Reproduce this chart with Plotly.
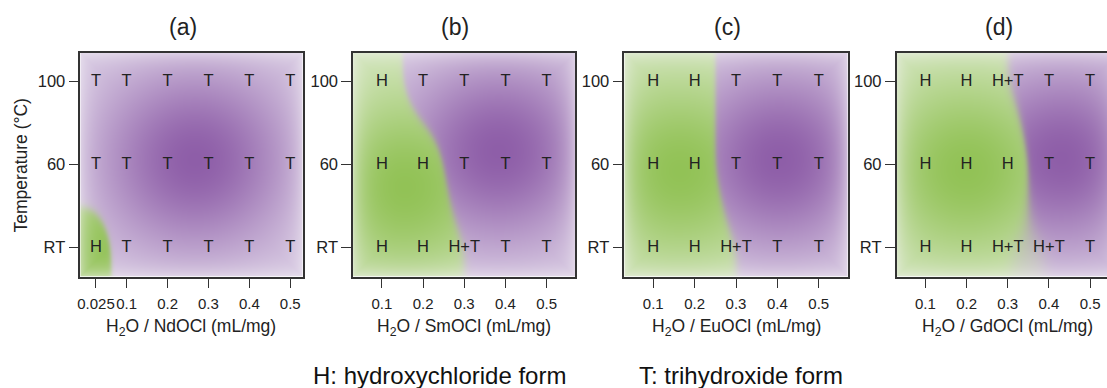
import numpy as np
import plotly.graph_objects as go
import zlib, struct, base64

# ---------------- data ----------------
panel_titles = ["(a)", "(b)", "(c)", "(d)"]
compounds = ["NdOCl", "SmOCl", "EuOCl", "GdOCl"]
temp_labels = ["RT", "60", "100"]          # rows, bottom -> top
ratios_a = [0.025, 0.1, 0.2, 0.3, 0.4, 0.5]
ratios_bcd = [0.1, 0.2, 0.3, 0.4, 0.5]

phase_a = [["H", "T", "T", "T", "T", "T"],      # RT
           ["T", "T", "T", "T", "T", "T"],      # 60
           ["T", "T", "T", "T", "T", "T"]]      # 100
phase_b = [["H", "H", "H+T", "T", "T"],
           ["H", "H", "T", "T", "T"],
           ["H", "T", "T", "T", "T"]]
phase_c = [["H", "H", "H+T", "T", "T"],
           ["H", "H", "T", "T", "T"],
           ["H", "H", "T", "T", "T"]]
phase_d = [["H", "H", "H+T", "H+T", "T"],
           ["H", "H", "H", "T", "T"],
           ["H", "H", "H+T", "T", "T"]]

ratios = [ratios_a, ratios_bcd, ratios_bcd, ratios_bcd]
phases = [phase_a, phase_b, phase_c, phase_d]
x_ranges = [(-0.0134, 0.5305), (0.03, 0.57), (0.03, 0.57), (0.03, 0.57)]
legend_texts = ["H: hydroxychloride form", "T: trihydroxide form"]

# ---------------- layout geometry (px) ----------------
FW, FH = 1107, 388
box_left = [77.5, 351.0, 623.0, 896.0]
box_right = [300.5, 574.0, 847.0, 1119.0]   # last one runs past the page edge
box_top, box_bot = 52.5, 276.5
y_range = (-0.35, 2.35)
FONT = "Liberation Sans, Arial, sans-serif"
INK = "#222222"

# colours
G_DARK = np.array([146, 194, 86.0])
G_LIGHT = np.array([214, 231, 194.0])
P_DARK = np.array([142, 94, 168.0])
P_LIGHT = np.array([219, 207, 229.0])
EDGE = np.array([247, 245, 248.0])
VAL = {"H": -1.0, "T": 1.0, "H+T": 0.0}


def png_uri(arr):
    h, w, _ = arr.shape
    raw = b"".join(b"\x00" + arr[i].tobytes() for i in range(h))

    def chunk(t, d):
        return struct.pack(">I", len(d)) + t + d + struct.pack(">I", zlib.crc32(t + d) & 0xFFFFFFFF)

    png = (b"\x89PNG\r\n\x1a\n" + chunk(b"IHDR", struct.pack(">IIBBBBB", w, h, 8, 2, 0, 0, 0))
           + chunk(b"IDAT", zlib.compress(raw, 9)) + chunk(b"IEND", b""))
    return "data:image/png;base64," + base64.b64encode(png).decode()


def blur(A, s):
    rad = int(3 * s)
    k = np.exp(-np.arange(-rad, rad + 1) ** 2 / (2.0 * s * s))
    k /= k.sum()
    Ap = np.pad(A, ((0, 0), (rad, rad)), mode="edge")
    A = np.apply_along_axis(lambda r: np.convolve(r, k, mode="valid"), 1, Ap)
    Ap = np.pad(A, ((rad, rad), (0, 0)), mode="edge")
    A = np.apply_along_axis(lambda r: np.convolve(r, k, mode="valid"), 0, Ap)
    return A


def background(i):
    left, right = box_left[i], box_right[i]
    right_vis = min(right, FW)
    r0, r1 = x_ranges[i]
    w = int(round(right_vis - left))
    h = int(round(box_bot - box_top))
    gx = left + (np.arange(w) + 0.5) * (right_vis - left) / w
    gy = box_top + (np.arange(h) + 0.5) * (box_bot - box_top) / h
    X, Y = np.meshgrid(gx, gy)

    def xpx(v):
        return left + (v - r0) / (r1 - r0) * (right - left)

    def ypx(v):
        return box_top + (y_range[1] - v) / (y_range[1] - y_range[0]) * (box_bot - box_top)

    xp = np.array([xpx(v) for v in ratios[i]])
    yp = np.array([ypx(r) for r in range(len(phases[i]))])
    # bilinear interpolation of the phase values on the sample grid
    rowv = np.stack([np.interp(gx, xp, [VAL[l] for l in row]) for row in phases[i]])
    order = np.argsort(yp)
    P = np.empty((h, w))
    for c in range(w):
        P[:, c] = np.interp(gy, yp[order], rowv[order, c])
    P = blur(P, 13.0)
    b = 1.0 / (1.0 + np.exp(-16.0 * P))   # purple fraction

    pts = []
    for r, row in enumerate(phases[i]):
        for c, lab in enumerate(row):
            pts.append((xp[c], yp[r], lab))

    def glow(target):
        ws = [(px, py, 1.0 if lab == target else (0.5 if lab == "H+T" else 0.0)) for px, py, lab in pts]
        tw = sum(t[2] for t in ws)
        cx = sum(t[0] * t[2] for t in ws) / tw
        cy = sum(t[1] * t[2] for t in ws) / tw
        return np.exp(-(((X - cx) / 72.0) ** 2 + ((Y - cy) / 68.0) ** 2) / 2)

    Ig = glow("H")[..., None]
    Ip = glow("T")[..., None]
    green = G_LIGHT + (G_DARK - G_LIGHT) * Ig
    purple = P_LIGHT + (P_DARK - P_LIGHT) * Ip
    bb = b[..., None]
    col = green * (1 - bb) + purple * bb
    d = np.minimum.reduce([X - left, right - X, Y - box_top, box_bot - Y])
    f = (0.5 * np.exp(-d / 9.0))[..., None]
    col = col * (1 - f) + EDGE * f
    arr = np.clip(np.round(col), 0, 255).astype(np.uint8)
    return png_uri(arr), (r0, r0 + (right_vis - left) / (right - left) * (r1 - r0))


fig = go.Figure()
ydom = [1 - box_bot / FH, 1 - box_top / FH]
images = []
annotations = []

for i in range(4):
    n = "" if i == 0 else str(i + 1)
    xa, ya = "x" + n, "y" + n
    uri, vis_range = background(i)
    images.append(dict(source=uri, xref=xa, yref=ya, x=vis_range[0], y=y_range[1],
                       sizex=vis_range[1] - vis_range[0], sizey=y_range[1] - y_range[0],
                       xanchor="left", yanchor="top", sizing="stretch", layer="below"))
    xs, ys, ts = [], [], []
    for r, row in enumerate(phases[i]):
        for c, lab in enumerate(row):
            xs.append(ratios[i][c]); ys.append(r); ts.append(lab)
    fig.add_trace(go.Scatter(x=xs, y=ys, text=ts, mode="text", xaxis=xa, yaxis=ya,
                             textfont=dict(family=FONT, size=16.5, color=INK),
                             hoverinfo="skip", showlegend=False))

    right_vis = min(box_right[i], FW)
    fig.layout["xaxis" + n] = dict(
        domain=[box_left[i] / FW, right_vis / FW], range=list(vis_range), anchor=ya,
        tickvals=ratios[i], ticktext=[("%g" % v) for v in ratios[i]], tickangle=0,
        ticks="outside", ticklen=10, tickwidth=1.3, tickcolor="#333",
        showline=True, linecolor="#333", linewidth=1.5, mirror=True,
        showgrid=False, zeroline=False, fixedrange=True,
        tickfont=dict(family=FONT, size=15, color=INK), ticklabelstandoff=3)
    fig.layout["yaxis" + n] = dict(
        domain=ydom, range=list(y_range), anchor=xa,
        tickvals=[0, 1, 2], ticktext=temp_labels,
        ticks="outside", ticklen=10, tickwidth=1.3, tickcolor="#333",
        showline=True, linecolor="#333", linewidth=1.5, mirror=(i < 3),
        showgrid=False, zeroline=False, fixedrange=True,
        tickfont=dict(family=FONT, size=16.5, color=INK))

    cx = (box_left[i] + box_right[i]) / 2
    annotations.append(dict(text=panel_titles[i], xref="paper", yref="paper",
                            x=(cx - 9) / FW, y=1 - 27 / FH, showarrow=False,
                            xanchor="center", yanchor="middle",
                            font=dict(family=FONT, size=23, color=INK)))
    annotations.append(dict(text="H<sub>2</sub>O / %s (mL/mg)" % compounds[i],
                            xref="paper", yref="paper", x=cx / FW, y=1 - 327 / FH,
                            showarrow=False, xanchor="center", yanchor="middle",
                            font=dict(family=FONT, size=17.5, color=INK)))

annotations.append(dict(text="Temperature (°C)", xref="paper", yref="paper",
                        x=18.5 / FW, y=1 - 165 / FH, textangle=-90, showarrow=False,
                        xanchor="center", yanchor="middle",
                        font=dict(family=FONT, size=17.5, color=INK)))
for txt, cxp in zip(legend_texts, [437.5, 740.0]):
    annotations.append(dict(text=txt, xref="paper", yref="paper", x=cxp / FW,
                            y=1 - 375 / FH, showarrow=False, xanchor="center",
                            yanchor="middle", font=dict(family=FONT, size=24, color="#111")))

fig.update_layout(width=FW, height=FH, margin=dict(l=0, r=0, t=0, b=0),
                  paper_bgcolor="white", plot_bgcolor="rgba(0,0,0,0)",
                  images=images, annotations=annotations, showlegend=False)

fig.write_html("out.html", config={"displayModeBar": False})
